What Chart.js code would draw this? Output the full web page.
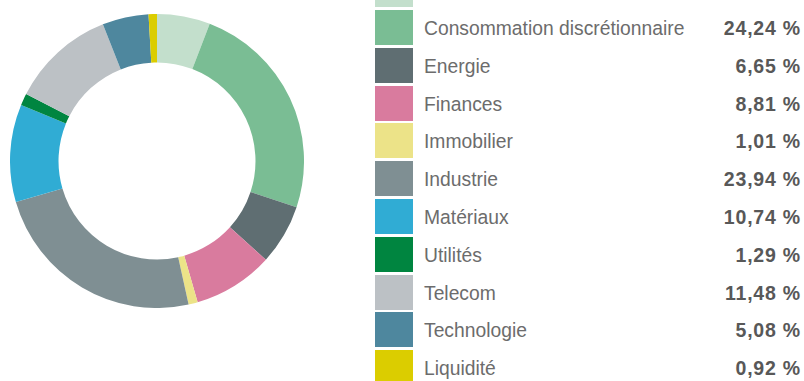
<!DOCTYPE html>
<html lang="fr">
<head>
<meta charset="utf-8">
<script src="https://cdn.jsdelivr.net/npm/chart.js@4.4.1/dist/chart.umd.min.js"></script>
<style>
    html, body { margin: 0; padding: 0; background: #fff; overflow: hidden; }
    body { width: 804px; height: 381px; position: relative; }
    #donutWrap { position: absolute; left: 10px; top: 14px; width: 294px; height: 294px; }
    #legend { position: absolute; left: 375px; top: -27.8px; width: 427px; }
    .row { position: relative; height: 37.8px; }
    .swatch { position: absolute; left: 0; top: 0; width: 38px; height: 35px; }
    .name {
        position: absolute; left: 49px; top: 1px; line-height: 35px;
        font-family: "Helvetica Neue", "Liberation Sans", Arial, sans-serif;
        font-weight: 300; font-size: 19.3px; color: #6c6c6c;
    }
    .value {
        position: absolute; right: 1px; top: 1px; line-height: 35px;
        font-family: "Helvetica Neue", "Liberation Sans", Arial, sans-serif;
        font-weight: bold; font-size: 19.5px; letter-spacing: 0.8px; color: #585858;
    }
</style>
</head>
<body>
<div id="donutWrap"><canvas id="sectorChart"></canvas></div>
<div id="legend"></div>

<script>
// Répartition sectorielle (%)
const sectors = [
    'Consommation de base', 'Consommation discrétionnaire', 'Energie', 'Finances',
    'Immobilier', 'Industrie', 'Matériaux', 'Utilités', 'Telecom', 'Technologie', 'Liquidité'
];
const weights = [5.84, 24.24, 6.65, 8.81, 1.01, 23.94, 10.74, 1.29, 11.48, 5.08, 0.92];
const sectorColors = [
    '#c3dfcc', '#7abd94', '#5f6e72', '#d97b9e', '#ece388', '#7f8f93',
    '#30acd4', '#008540', '#bcc1c5', '#4e879e', '#dbcd00'
];

const fmtPct = v => v.toFixed(2).replace('.', ',') + ' %';

function buildLegend() {
    const box = document.getElementById('legend');
    sectors.forEach((name, i) => {
        const row = document.createElement('div');
        row.className = 'row';
        row.innerHTML =
            `<div class="swatch" style="background:${sectorColors[i]}"></div>` +
            `<div class="name">${name}</div>` +
            `<div class="value">${fmtPct(weights[i])}</div>`;
        box.appendChild(row);
    });
}

function setupDonut() {
    const ctx = document.getElementById('sectorChart').getContext('2d');
    new Chart(ctx, {
        type: 'doughnut',
        data: {
            labels: sectors,
            datasets: [{
                data: weights,
                backgroundColor: sectorColors,
                borderWidth: 0
            }]
        },
        options: {
            responsive: true,
            maintainAspectRatio: false,
            animation: false,
            cutout: '67%',
            layout: { padding: 0 },
            plugins: {
                legend: { display: false },
                tooltip: { enabled: false }
            }
        }
    });
}

buildLegend();
setupDonut();
</script>
</body>
</html>
